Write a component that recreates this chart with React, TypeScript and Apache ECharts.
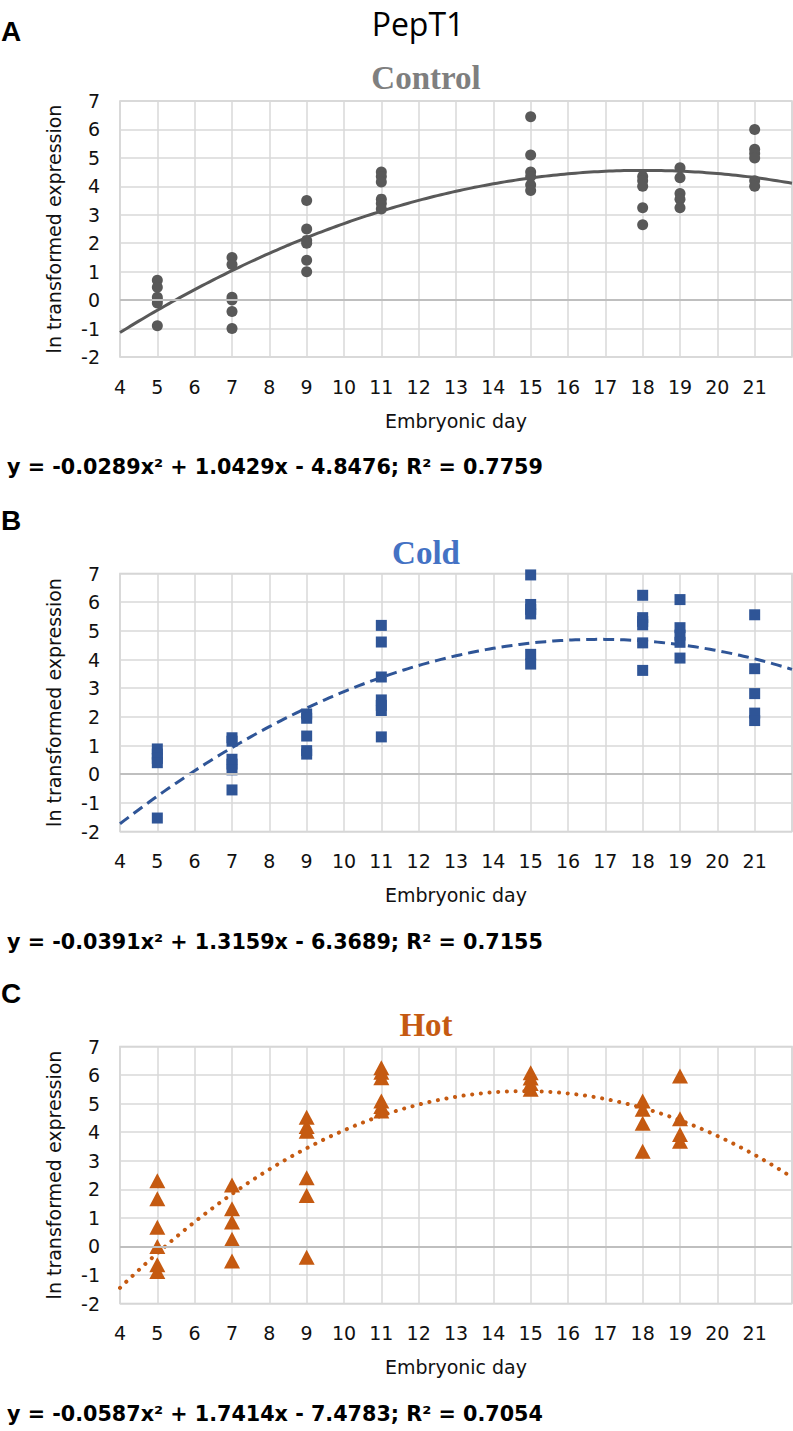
import React, { useEffect, useRef } from "react";
import * as echarts from "echarts";

// ---------- data ----------
const controlDays = [5, 7, 9, 11, 15, 18, 19, 21];
const controlValues = [
  [0.7, 0.45, 0.1, 0.0, -0.1, -0.9],
  [1.5, 1.25, 0.1, 0.0, -0.4, -1.0],
  [3.5, 2.5, 2.1, 2.0, 1.4, 1.0],
  [4.5, 4.35, 4.15, 3.55, 3.4, 3.2],
  [6.45, 5.1, 4.5, 4.35, 4.05, 3.85],
  [4.35, 4.2, 4.0, 3.25, 2.65],
  [4.65, 4.3, 3.75, 3.55, 3.25],
  [6.0, 5.3, 5.15, 5.0, 4.2, 4.0],
];
const coldDays = [5, 7, 9, 11, 15, 18, 19, 21];
const coldValues = [
  [0.88, 0.7, 0.55, 0.4, -1.53],
  [1.27, 1.15, 0.52, 0.35, 0.15, -0.55],
  [2.1, 1.95, 1.33, 0.82, 0.7],
  [5.19, 4.61, 3.39, 2.59, 2.4, 2.22, 1.3],
  [6.95, 5.92, 5.75, 5.59, 4.18, 3.84],
  [6.24, 5.46, 5.33, 5.21, 4.58, 3.62],
  [6.09, 5.11, 4.85, 4.6, 4.05],
  [5.56, 3.68, 2.81, 2.13, 1.87],
];
const hotDays = [5, 7, 9, 11, 15, 18, 19];
const hotValues = [
  [2.3, 1.67, 0.67, 0.0, -0.64, -0.88],
  [2.15, 1.32, 0.85, 0.25, -0.51],
  [4.52, 4.2, 4.03, 2.4, 1.78, -0.38],
  [6.26, 6.1, 5.91, 5.09, 4.9, 4.74],
  [6.08, 5.9, 5.7, 5.5],
  [5.09, 4.8, 4.31, 3.33],
  [5.97, 4.47, 3.92, 3.68],
];
// printed polynomial trendline coefficients [a, b, c] for y = a x^2 + b x + c
const controlFit = [-0.0289, 1.0429, -4.8476];
const coldFit = [-0.0391, 1.3159, -6.3689];
const hotFit = [-0.0587, 1.7414, -7.4783];
const equations = [
  "y = -0.0289x² + 1.0429x - 4.8476; R² = 0.7759",
  "y = -0.0391x² + 1.3159x - 6.3689; R² = 0.7155",
  "y = -0.0587x² + 1.7414x - 7.4783; R² = 0.7054",
];
const panelTitles = ["Control", "Cold", "Hot"];
const panelLetters = ["A", "B", "C"];
const xTicks = { min: 4, max: 22, interval: 1 };
const yTicks = { min: -2, max: 7, interval: 1 };

// ---------- helpers ----------
const toPoints = (days: number[], vals: number[][]) => {
  const out: number[][] = [];
  days.forEach((d, i) => vals[i].forEach((v) => out.push([d, v])));
  return out;
};
const fitCurve = (c: number[]) => {
  const pts: number[][] = [];
  for (let k = 0; k <= 180; k++) {
    const x = xTicks.min + (k * (xTicks.max - xTicks.min)) / 180;
    pts.push([x, c[0] * x * x + c[1] * x + c[2]]);
  }
  return pts;
};

const FONT = "'DejaVu Sans', Verdana, sans-serif";
const grids = [
  { left: 120, top: 101, width: 672, height: 256 },
  { left: 120, top: 573.5, width: 672, height: 258 },
  { left: 120, top: 1046.5, width: 672, height: 257 },
];
const titleColors = ["#7F7F7F", "#4472C4", "#C55A11"];
const titleY = [78, 552.5, 1025];
const letterY = [31, 520, 993];

export default function App() {
  const ref = useRef<HTMLDivElement>(null);
  useEffect(() => {
    if (!ref.current) return;
    const chart = echarts.init(ref.current, null, { renderer: "svg" });

    const xAxis = grids.map((_, i) => ({
      type: "value",
      gridIndex: i,
      min: xTicks.min,
      max: xTicks.max,
      interval: xTicks.interval,
      name: "Embryonic day",
      nameLocation: "middle",
      nameGap: 54,
      nameTextStyle: { fontSize: 19, fontFamily: FONT, color: "#111" },
      axisLine: { show: false },
      axisTick: { show: false },
      axisLabel: {
        fontSize: 19,
        fontFamily: FONT,
        color: "#111",
        margin: 20,
        showMaxLabel: false,
      },
      splitLine: { show: true, lineStyle: { color: "#D9D9D9", width: 1.5 } },
    }));
    const yAxis = grids.map((_, i) => ({
      type: "value",
      gridIndex: i,
      min: yTicks.min,
      max: yTicks.max,
      interval: yTicks.interval,
      name: "ln transformed expression",
      nameLocation: "middle",
      nameGap: 57,
      nameTextStyle: { fontSize: 19, fontFamily: FONT, color: "#111" },
      axisLine: { show: false },
      axisTick: { show: false },
      axisLabel: { fontSize: 19, fontFamily: FONT, color: "#111", margin: 20 },
      splitLine: { show: true, lineStyle: { color: "#D9D9D9", width: 1.5 } },
    }));

    const zeroLine = {
      silent: true,
      symbol: ["none", "none"],
      label: { show: false },
      lineStyle: { color: "#BFBFBF", type: "solid", width: 2 },
      data: [{ yAxis: 0 }],
    };

    const series: any[] = [
      {
        type: "line",
        xAxisIndex: 0,
        yAxisIndex: 0,
        data: fitCurve(controlFit),
        showSymbol: false,
        lineStyle: { color: "#595959", width: 3 },
        z: 2,
        markLine: zeroLine,
      },
      {
        type: "scatter",
        xAxisIndex: 0,
        yAxisIndex: 0,
        data: toPoints(controlDays, controlValues),
        symbol: "circle",
        symbolSize: 11,
        itemStyle: { color: "#595959", opacity: 1 },
        z: 3,
      },
      {
        type: "line",
        xAxisIndex: 1,
        yAxisIndex: 1,
        data: fitCurve(coldFit),
        showSymbol: false,
        lineStyle: { color: "#2F5597", width: 3, type: [11, 6] },
        z: 2,
        markLine: zeroLine,
      },
      {
        type: "scatter",
        xAxisIndex: 1,
        yAxisIndex: 1,
        data: toPoints(coldDays, coldValues),
        symbol: "rect",
        symbolSize: 11,
        itemStyle: { color: "#2F5597", opacity: 1 },
        z: 3,
      },
      {
        type: "line",
        xAxisIndex: 2,
        yAxisIndex: 2,
        data: fitCurve(hotFit),
        showSymbol: false,
        lineStyle: { color: "#C55A11", width: 4, type: [0.1, 8.6], cap: "round" },
        z: 2,
        markLine: zeroLine,
      },
      {
        type: "scatter",
        xAxisIndex: 2,
        yAxisIndex: 2,
        data: toPoints(hotDays, hotValues),
        symbol: "triangle",
        symbolSize: [16, 15],
        itemStyle: { color: "#C55A11", opacity: 1 },
        z: 3,
      },
    ];

    const txt = (
      text: string,
      x: number,
      y: number,
      size: number,
      family: string,
      weight: string,
      color: string,
      align = "center"
    ) => ({
      type: "text",
      x,
      y,
      silent: true,
      style: {
        text,
        fill: color,
        fontSize: size,
        fontFamily: family,
        fontWeight: weight,
        align,
        verticalAlign: "middle",
        textAlign: align,
        textVerticalAlign: "middle",
      },
    });

    const graphic: any[] = [
      txt("PepT1", 418, 23, 32, "'Open Sans', sans-serif", "normal", "#000"),
    ];
    grids.forEach((g, i) => {
      graphic.push(
        txt(panelLetters[i], 1, letterY[i], 28, "'Liberation Sans', Arial, sans-serif", "bold", "#000", "left")
      );
      graphic.push(
        txt(panelTitles[i], 426, titleY[i], 33, "'Liberation Serif', 'Times New Roman', serif", "bold", titleColors[i])
      );
      graphic.push(
        txt(equations[i], 7, g.top + g.height + 110, 20.7, FONT, "bold", "#000", "left")
      );
    });

    chart.setOption({
      animation: false,
      backgroundColor: "#fff",
      grid: grids.map((g) => ({
        ...g,
        show: true,
        borderColor: "#D0D0D0",
        borderWidth: 1.5,
        containLabel: false,
      })),
      xAxis,
      yAxis,
      series,
      graphic,
    });
    return () => chart.dispose();
  }, []);
  return (
    <div
      ref={ref}
      style={{ position: "absolute", left: 0, top: 0, width: 793, height: 1431, background: "#fff" }}
    />
  );
}
